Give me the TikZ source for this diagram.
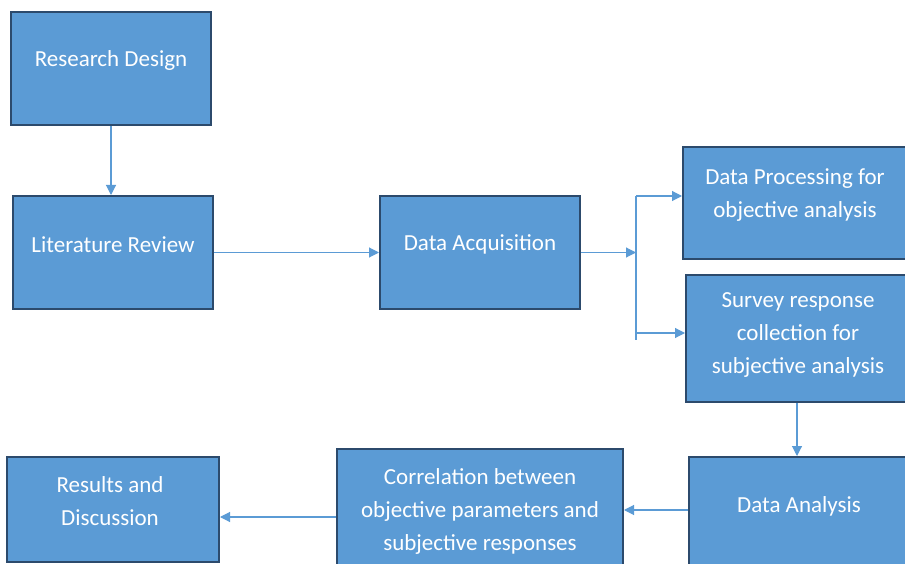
\documentclass[tikz,border=0pt]{standalone}
\usepackage{fontspec}
\setmainfont{Carlito}
\usetikzlibrary{positioning,arrows.meta}

\definecolor{boxfill}{HTML}{5B9BD5}
\definecolor{boxline}{HTML}{2C4A6C}
\definecolor{arrowcol}{HTML}{5B9BD5}

\tikzset{
  stage/.style={draw=boxline, line width=2pt, fill=boxfill, inner sep=0pt},
  stagetext/.style={text=white, align=center, font=\fontsize{23}{33}\selectfont},
  flow/.style={draw=arrowcol, line width=1.1pt, -{Triangle[length=10pt,width=10pt]}},
  plainflow/.style={draw=arrowcol, line width=1.1pt},
}

\begin{document}
\begin{tikzpicture}[x=1pt,y=-1pt]
  \useasboundingbox (0,0) rectangle (905,564);
  \begin{scope}
    \clip (0,0) rectangle (905,564);

    % top row and left column
    \node[stage, minimum width=200pt, minimum height=113pt] (design) at (111,68.5) {};
    \node[stage, minimum width=200pt, minimum height=113pt, below=69pt of design, xshift=2pt] (review) {};
    \node[stage, minimum width=200pt, minimum height=113pt, right=165pt of review] (acquire) {};

    % right column
    \node[stage, minimum width=224pt, minimum height=112pt] (process) at (795,203) {};
    \node[stage, minimum width=224pt, minimum height=127pt] (survey) at (798,338.5) {};
    \node[stage, minimum width=220pt, minimum height=115pt] (analysis) at (799,514.5) {};

    % bottom row
    \node[stage, minimum width=286pt, minimum height=141pt] (correl) at (480,519.5) {};
    \node[stage, minimum width=212pt, minimum height=105pt] (results) at (113,509.5) {};

    % labels
    \node[stagetext] (designtxt) at ([yshift=8pt]design.center) {Research Design};
    \node[stagetext] (reviewtxt) at ([yshift=8pt]review.center) {Literature Review};
    \node[stagetext] (acquiretxt) at ([yshift=8pt]acquire.center) {Data Acquisition};
    \node[stagetext] (processtxt) at ([yshift=8pt]process.center) {Data Processing for\\objective analysis};
    \node[stagetext] (surveytxt) at ([yshift=3pt]survey.center) {Survey response\\collection for\\subjective analysis};
    \node[stagetext] (analysistxt) at ([yshift=8pt]analysis.center) {Data Analysis};
    \node[stagetext] (correltxt) at ([yshift=8.5pt]correl.center) {Correlation between\\objective parameters and\\subjective responses};
    \node[stagetext] (resultstxt) at ([yshift=8.5pt,xshift=-3pt]results.center) {Results and\\Discussion};

    % fork after acquisition
    \coordinate (fork) at (636,252.5);
    \coordinate (forkup) at (636,196);
    \coordinate (forkdown) at (636,333);
    \coordinate (forkend) at (636,340);

    \draw[flow] (design.south -| 111,0) -- (design.south |- review.north);
    \draw[flow] (review.east) -- (acquire.west);
    \draw[flow] (acquire.east) -- (acquire.east -| fork);
    \draw[plainflow] (forkup) -- (forkend);
    \draw[flow] (forkup) -- (forkup -| process.west);
    \draw[flow] (forkdown) -- (forkdown -| survey.west);
    \draw[flow] (survey.south -| 797,0) -- (analysis.north -| 797,0);
    \draw[flow] ([yshift=4.5pt]analysis.west) -- ([yshift=4.5pt]analysis.west -| correl.east);
    \draw[flow] ([yshift=2.5pt]correl.west) -- ([yshift=2.5pt]correl.west -| results.east);
  \end{scope}
\end{tikzpicture}
\end{document}
